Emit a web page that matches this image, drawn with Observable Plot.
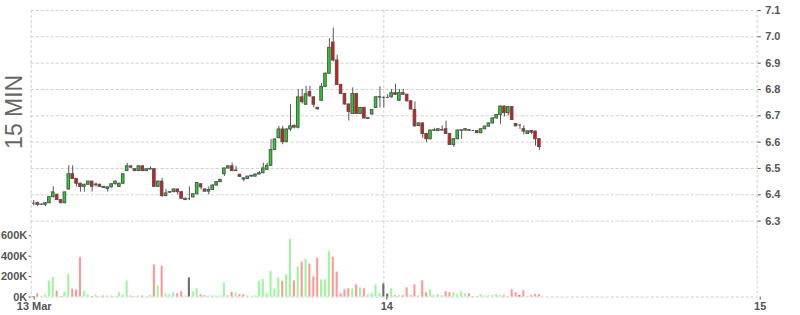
<!DOCTYPE html>
<html>
<head>
<meta charset="utf-8">
<script src="https://cdn.jsdelivr.net/npm/d3@7"></script>
<script src="https://cdn.jsdelivr.net/npm/@observablehq/plot@0.6"></script>
<style>
  html, body { margin: 0; padding: 0; background: #fff; }
  #chart { position: relative; width: 800px; height: 315px; overflow: hidden; }
  #chart svg { position: absolute; left: 0; top: 0; }
</style>
</head>
<body>
<div id="chart"></div>
<script>
// ---- DATA ----
const firstCandleTime = "2024-03-13T01:30:00Z";
const candleMinutes = 15;
const open = [
  6.368,6.368,6.362,6.362,6.368,6.391,6.400,6.380,6.368,6.420,
  6.478,6.460,6.442,6.430,6.438,6.450,6.436,6.438,6.430,6.422,
  6.428,6.440,6.430,6.442,6.490,6.508,6.497,6.490,6.508,6.490,
  6.496,6.497,6.430,6.450,6.395,6.408,6.410,6.420,6.410,6.380,
  6.385,6.390,6.402,6.440,6.420,6.412,6.418,6.435,6.448,6.478,
  6.500,6.508,6.490,6.476,6.462,6.460,6.469,6.469,6.477,6.482,
  6.495,6.510,6.570,6.615,6.648,6.600,6.648,6.662,6.655,6.770,
  6.742,6.790,6.770,6.730,6.757,6.810,6.860,6.978,6.910,6.817,
  6.783,6.743,6.707,6.783,6.707,6.730,6.688,6.705,6.730,6.769,
  6.770,6.770,6.770,6.786,6.757,6.786,6.780,6.755,6.722,6.661,
  6.671,6.631,6.611,6.643,6.642,6.644,6.649,6.631,6.589,6.611,
  6.643,6.644,6.645,6.644,6.642,6.634,6.649,6.659,6.671,6.690,
  6.703,6.735,6.710,6.733,6.669,6.665,6.649,6.631,6.642,6.640,
  6.611
];
const high = [
  6.378,6.372,6.364,6.370,6.392,6.430,6.402,6.381,6.410,6.510,
  6.510,6.462,6.444,6.440,6.452,6.451,6.445,6.440,6.432,6.430,
  6.442,6.452,6.444,6.480,6.520,6.510,6.499,6.510,6.510,6.499,
  6.505,6.499,6.452,6.462,6.420,6.412,6.422,6.421,6.412,6.387,
  6.430,6.404,6.447,6.442,6.422,6.430,6.438,6.450,6.458,6.500,
  6.510,6.520,6.508,6.478,6.464,6.470,6.474,6.478,6.488,6.520,
  6.520,6.610,6.612,6.660,6.660,6.650,6.742,6.665,6.800,6.800,
  6.812,6.812,6.772,6.732,6.823,6.862,6.993,7.033,6.930,6.820,
  6.785,6.745,6.806,6.785,6.732,6.732,6.692,6.724,6.774,6.810,
  6.772,6.780,6.800,6.820,6.800,6.800,6.782,6.757,6.753,6.673,
  6.673,6.633,6.646,6.653,6.651,6.662,6.680,6.633,6.612,6.646,
  6.646,6.651,6.647,6.645,6.644,6.651,6.661,6.673,6.692,6.705,
  6.737,6.737,6.735,6.735,6.671,6.667,6.662,6.642,6.643,6.642,
  6.613
];
const low = [
  6.358,6.355,6.360,6.355,6.366,6.388,6.378,6.366,6.366,6.418,
  6.458,6.430,6.410,6.410,6.436,6.410,6.430,6.428,6.424,6.410,
  6.426,6.438,6.428,6.440,6.488,6.500,6.488,6.488,6.488,6.488,
  6.494,6.428,6.428,6.390,6.393,6.405,6.408,6.400,6.383,6.378,
  6.378,6.388,6.400,6.418,6.410,6.400,6.416,6.434,6.446,6.470,
  6.498,6.488,6.488,6.466,6.450,6.458,6.467,6.467,6.475,6.480,
  6.493,6.508,6.568,6.613,6.590,6.598,6.640,6.650,6.650,6.745,
  6.740,6.770,6.730,6.722,6.755,6.808,6.858,6.905,6.815,6.780,
  6.740,6.680,6.705,6.705,6.705,6.688,6.686,6.703,6.728,6.730,
  6.730,6.765,6.768,6.778,6.755,6.778,6.753,6.722,6.657,6.659,
  6.615,6.599,6.609,6.641,6.640,6.642,6.629,6.587,6.580,6.609,
  6.611,6.642,6.642,6.643,6.632,6.632,6.647,6.657,6.669,6.688,
  6.668,6.695,6.700,6.682,6.658,6.648,6.628,6.629,6.629,6.585,
  6.569
];
const close = [
  6.368,6.362,6.363,6.368,6.391,6.409,6.380,6.368,6.409,6.478,
  6.460,6.442,6.430,6.438,6.450,6.430,6.439,6.430,6.426,6.428,
  6.440,6.450,6.442,6.478,6.508,6.503,6.490,6.508,6.490,6.497,
  6.498,6.430,6.450,6.395,6.405,6.410,6.420,6.410,6.385,6.385,
  6.385,6.402,6.445,6.428,6.412,6.418,6.435,6.448,6.457,6.500,
  6.508,6.490,6.492,6.468,6.458,6.469,6.472,6.477,6.482,6.500,
  6.510,6.570,6.610,6.648,6.600,6.648,6.660,6.655,6.770,6.752,
  6.782,6.774,6.742,6.725,6.810,6.860,6.958,6.910,6.817,6.783,
  6.743,6.715,6.783,6.707,6.730,6.690,6.691,6.722,6.770,6.771,
  6.770,6.770,6.786,6.780,6.786,6.780,6.755,6.724,6.660,6.671,
  6.631,6.611,6.644,6.645,6.649,6.646,6.631,6.589,6.611,6.644,
  6.645,6.649,6.643,6.644,6.634,6.649,6.659,6.671,6.690,6.703,
  6.735,6.710,6.733,6.684,6.660,6.665,6.640,6.641,6.636,6.611,
  6.581
];
// volume in thousands
const volumeK = [
  5,32,6,19,155,194,58,5,48,223,
  77,68,387,58,19,6,19,3,10,10,
  10,3,42,19,155,10,3,10,10,3,
  19,313,110,303,32,19,42,32,52,10,
  187,52,81,23,13,10,10,10,10,139,
  13,45,42,23,23,10,2,10,155,171,
  32,252,77,187,155,216,565,158,294,342,
  371,323,197,381,168,168,448,390,245,32,
  71,81,81,119,90,81,23,32,119,32,
  129,29,81,13,13,13,90,13,119,13,
  158,42,71,13,23,13,52,42,42,23,
  52,32,32,2,2,23,6,13,13,23,
  13,13,6,71,42,13,61,6,13,23,
  23
];
const priceTicks = [6.3, 6.4, 6.5, 6.6, 6.7, 6.8, 6.9, 7.0, 7.1];
const volumeTicks = [0, 200000, 400000, 600000];
const volumeTickLabels = ["0K", "200K", "400K", "600K"];
const dayTickTimes = ["2024-03-13T01:20:00Z", "2024-03-14T00:00:00Z", "2024-03-15T00:00:00Z"];
const dayTickLabels = ["13 Mar", "14", "15"];
const panelTitle = "15 MIN";

// ---- BUILD ----
const t0 = Date.parse(firstCandleTime);
const stepMs = candleMinutes * 60e3;
const candles = open.map((o, i) => {
  const c = close[i];
  return {
    time: new Date(t0 + i * stepMs),
    open: o, high: high[i], low: low[i], close: c,
    volume: volumeK[i] * 1000,
    dir: c > o ? "up" : c < o ? "down" : "flat"
  };
});
const dayDates = dayTickTimes.map(s => new Date(s));
const dayLabelByTime = new Map(dayDates.map((d, i) => [+d, dayTickLabels[i]]));
const volLabelByValue = new Map(volumeTicks.map((v, i) => [v, volumeTickLabels[i]]));

const bodyHalf = 5 * 60e3;
const volHalf = 4 * 60e3;
const upBody = "#13e013", downBody = "#f20d0d", edge = "#555";
const volColor = {up: "#9cf79c", down: "#ff9797", flat: "#6b6b6b"};
const gridColor = "#cfcfcf";

const common = {
  width: 800, height: 315,
  marginLeft: 30.7, marginRight: 43.3,
  x: {type: "utc", domain: [dayDates[0], dayDates[2]], axis: null},
  color: {type: "identity"},
  style: {
    fontFamily: "'Liberation Sans', Arial, sans-serif",
    fontSize: "11px", fontWeight: "bold", color: "#555",
    background: "transparent", overflow: "visible"
  }
};

const volumePlot = Plot.plot({
  ...common,
  marginTop: 220.6, marginBottom: 18.5,
  y: {domain: [0, 744000], axis: null},
  marks: [
    Plot.ruleY([0], {stroke: gridColor, strokeDasharray: "3,2"}),
    Plot.ruleX(dayDates, {stroke: gridColor, strokeDasharray: "3,2"}),
    Plot.rect(candles, {
      x1: d => new Date(+d.time - volHalf), x2: d => new Date(+d.time + volHalf),
      y1: 0, y2: "volume", fill: d => volColor[d.dir]
    }),
    Plot.axisY(volumeTicks, {anchor: "left", tickSize: 2, tickPadding: 2,
      tickFormat: v => volLabelByValue.get(v), label: null}),
    Plot.axisX(dayDates, {anchor: "bottom", tickSize: 3, tickPadding: 2, dx: 3,
      tickFormat: d => dayLabelByTime.get(+d), label: null})
  ]
});

const pricePlot = Plot.plot({
  ...common,
  marginTop: 10, marginBottom: 94.4,
  y: {domain: [6.3, 7.1], axis: null},
  marks: [
    Plot.gridY(priceTicks, {stroke: gridColor, strokeOpacity: 1, strokeDasharray: "3,2"}),
    Plot.ruleX(dayDates, {stroke: gridColor, strokeDasharray: "3,2"}),
    Plot.axisY(priceTicks, {anchor: "right", tickSize: 3, tickPadding: 5,
      tickFormat: d => d.toFixed(1), label: null}),
    Plot.ruleX(candles, {x: "time", y1: "low", y2: "high", stroke: edge}),
    Plot.rect(candles.filter(d => d.dir !== "flat"), {
      x1: d => new Date(+d.time - bodyHalf), x2: d => new Date(+d.time + bodyHalf),
      y1: "open", y2: "close",
      fill: d => d.dir === "up" ? upBody : downBody, stroke: edge, strokeWidth: 1
    }),
    Plot.ruleY(candles.filter(d => d.dir === "flat"), {
      x1: d => new Date(+d.time - bodyHalf), x2: d => new Date(+d.time + bodyHalf),
      y: "open", stroke: edge
    }),
    Plot.text([panelTitle], {x: () => dayDates[0], y: () => 6.715, rotate: -90, dx: -17,
      text: d => d, fontSize: 23, fontWeight: "normal", fill: "#666"})
  ]
});

const chart = document.getElementById("chart");
chart.appendChild(volumePlot);
chart.appendChild(pricePlot);
</script>
</body>
</html>
